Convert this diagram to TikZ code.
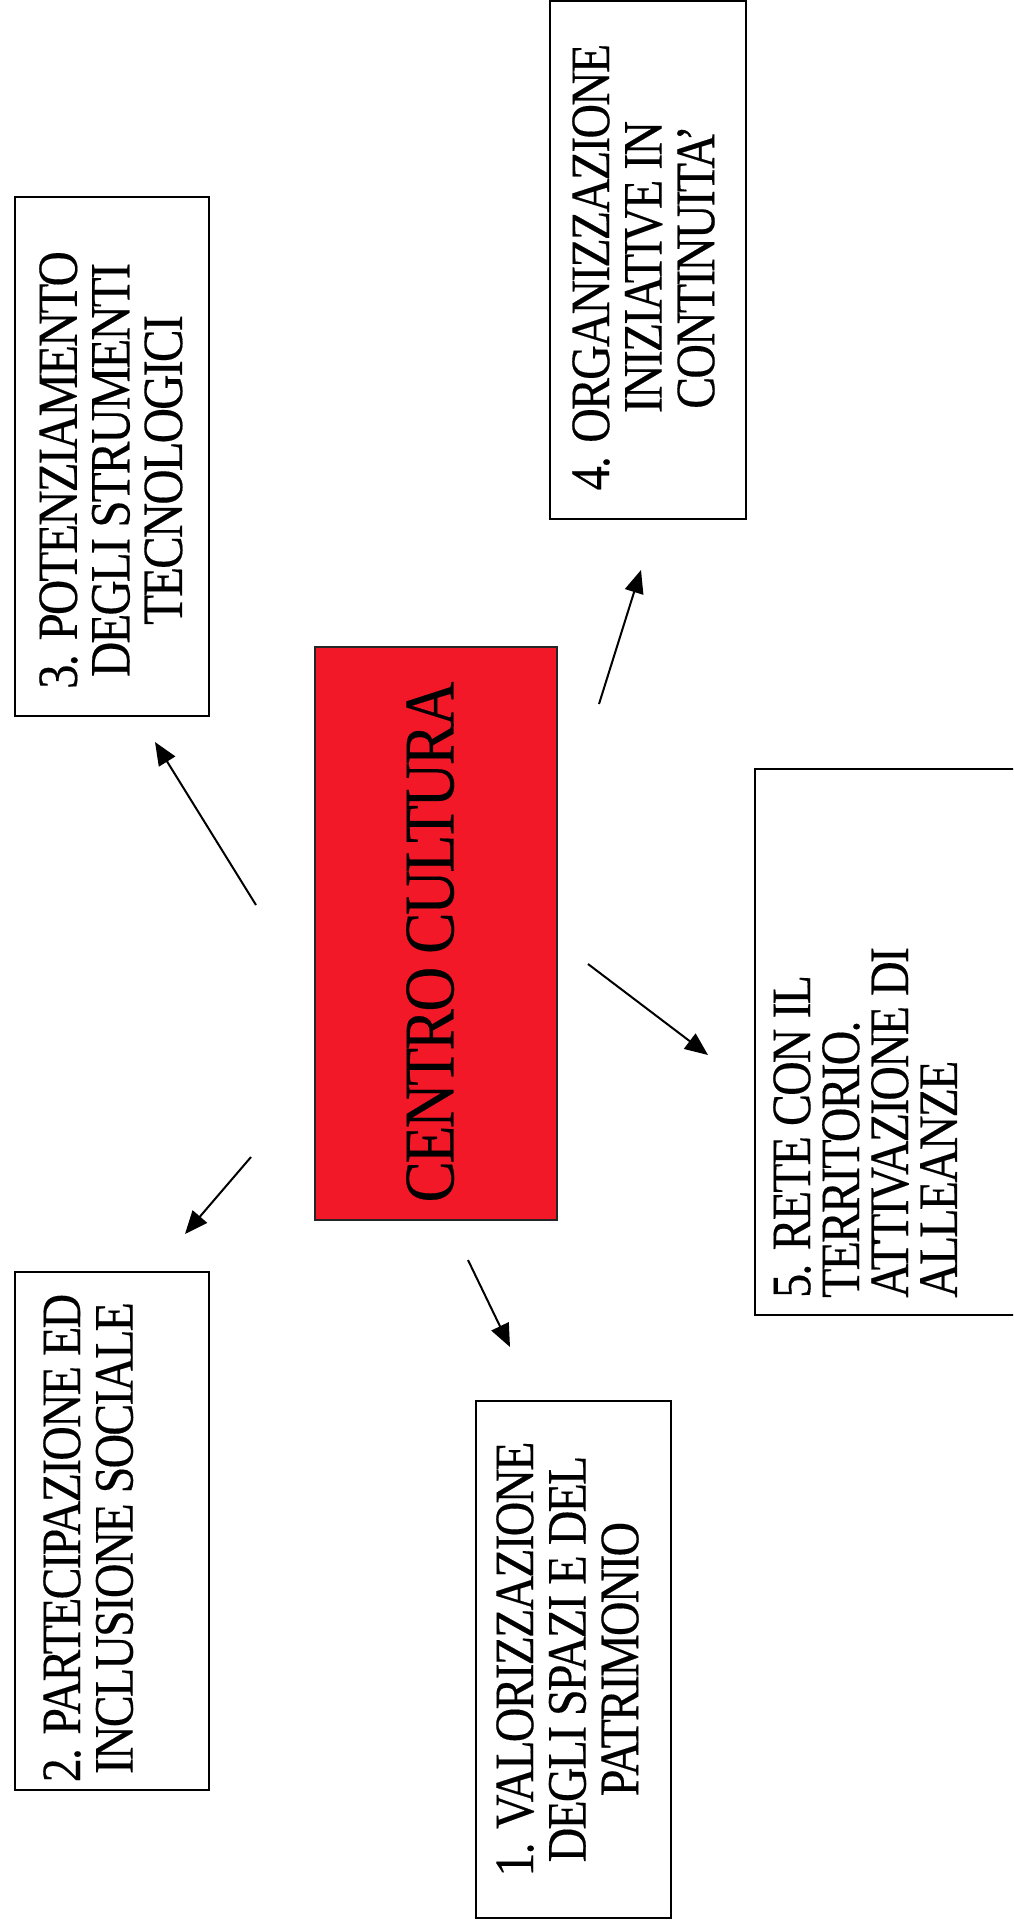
\documentclass[tikz,border=0pt]{standalone}
\usepackage{fontspec}
\setmainfont{Liberation Serif}
\newfontfamily\diagfont[LetterSpace=-4,FakeBold=0.3]{Liberation Serif}
\usetikzlibrary{arrows.meta}
\definecolor{centrored}{RGB}{242,24,40}
\tikzset{
  boxnode/.style={draw=black, line width=2pt, inner sep=0pt, fill=white},
  centrebox/.style={draw=black!85, line width=2pt, inner sep=0pt, fill=centrored},
  boxtext/.style={rotate=90, yscale=1.16, inner sep=0pt, align=center,
     font=\diagfont\fontsize{48}{45.3}\selectfont},
  boxtextleft/.style={rotate=90, yscale=1.16, inner sep=0pt, align=left,
     font=\diagfont\fontsize{48}{42.2}\selectfont},
  arrowline/.style={line width=2pt, -{Triangle[length=23pt,width=19pt]}}
}
\begin{document}
\begin{tikzpicture}[x=1pt,y=-1pt]
\useasboundingbox (0,0) rectangle (1013,1931);
\clip (0,0) rectangle (1013,1931);
\fill[white] (0,0) rectangle (1013,1931);
% boxes
\node[centrebox, minimum width=242pt, minimum height=573pt] (centro) at (436,933.5) {};
\node[boxnode, minimum width=194pt, minimum height=519pt] (b3) at (112,456.5) {};
\node[boxnode, minimum width=196pt, minimum height=518pt] (b4) at (648,260) {};
\node[boxnode, minimum width=275pt, minimum height=546pt] (b5) at (892.5,1042) {};
\node[boxnode, minimum width=194pt, minimum height=518pt] (b2) at (112,1531) {};
\node[boxnode, minimum width=195pt, minimum height=517pt] (b1) at (573.5,1659.5) {};
% texts
\node[rotate=90, yscale=1.15, inner sep=0pt, anchor=north, font=\diagfont\fontsize{62}{64}\selectfont] (centrotext) at (406,942) {CENTRO CULTURA};
\node[boxtext, anchor=north, font=\diagfont\fontsize{49}{45.3}\selectfont] (t3) at (39,470) {3. POTENZIAMENTO\\DEGLI STRUMENTI\\TECNOLOGICI};
\node[boxtext, anchor=north] (t4) at (572,267) {4. ORGANIZZAZIONE\\INIZIATIVE IN\\CONTINUITA’};
\node[boxtextleft, anchor=north west] (t5) at (773,1298) {5. RETE CON IL\\TERRITORIO.\\ATTIVAZIONE DI\\ALLEANZE};
\node[boxtext, anchor=north] (t2) at (43,1538) {2. PARTECIPAZIONE ED\\INCLUSIONE SOCIALE};
\node[boxtext, anchor=north] (t1) at (496,1659) {1. VALORIZZAZIONE\\DEGLI SPAZI E DEL\\PATRIMONIO};
% arrow end points
\coordinate (s3) at (256,905);  \coordinate (e3) at (155,742);
\coordinate (s4) at (599,704);  \coordinate (e4) at (641,570);
\coordinate (s5) at (588,964);  \coordinate (e5) at (708,1055);
\coordinate (s2) at (251,1157); \coordinate (e2) at (185,1234);
\coordinate (s1) at (468,1260); \coordinate (e1) at (510,1347);
\draw[arrowline] (s3) -- (e3);
\draw[arrowline] (s4) -- (e4);
\draw[arrowline] (s5) -- (e5);
\draw[arrowline] (s2) -- (e2);
\draw[arrowline] (s1) -- (e1);
\end{tikzpicture}
\end{document}
